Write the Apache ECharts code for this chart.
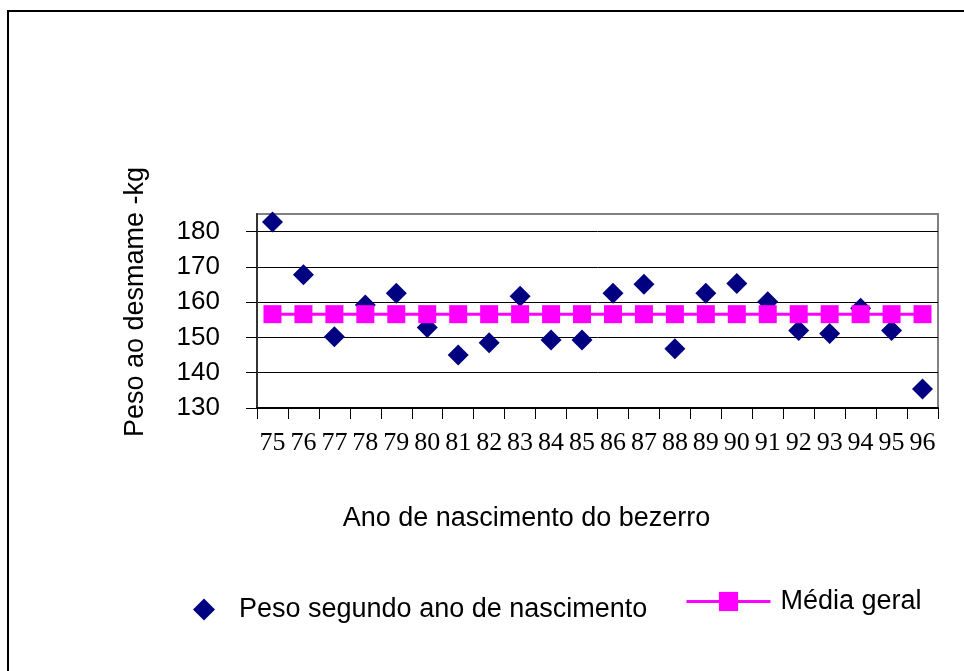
<!DOCTYPE html>
<html>
<head>
<meta charset="utf-8">
<script src="https://cdn.jsdelivr.net/npm/echarts@6/dist/echarts.min.js"></script>
<style>
html,body{margin:0;padding:0;background:#fff;}
#chart{width:964px;height:671px;}
</style>
</head>
<body>
<div id="chart"></div>
<script>
var years = ['75','76','77','78','79','80','81','82','83','84','85','86','87','88','89','90','91','92','93','94','95','96'];
var pesoValues = [182.7,167.8,150.2,159.2,162.5,152.8,145.0,148.5,161.7,149.3,149.3,162.5,165.1,146.8,162.5,165.3,160.1,152.0,151.1,158.3,152.0,135.4];
var mediaValues = [156.6,156.6,156.6,156.6,156.6,156.6,156.6,156.6,156.6,156.6,156.6,156.6,156.6,156.6,156.6,156.6,156.6,156.6,156.6,156.6,156.6,156.6];
var yMin = 130, yMax = 185, yInterval = 10;

var chart = echarts.init(document.getElementById('chart'), null, {renderer:'canvas'});
var sans = 'Liberation Sans, Arial, sans-serif';
var serif = 'Liberation Serif, Times New Roman, serif';
chart.setOption({
  animation:false,
  backgroundColor:'#ffffff',
  graphic:[{
    type:'polyline',
    shape:{points:[[8,680],[8,11],[970,11]]},
    style:{stroke:'#000',lineWidth:2,fill:null},
    silent:true
  }],
  grid:{left:257,right:26,top:214,bottom:263,show:true,borderColor:'#808080',borderWidth:2,backgroundColor:'transparent'},
  xAxis:{
    type:'category',
    data:years,
    boundaryGap:true,
    name:'Ano de nascimento do bezerro',
    nameLocation:'middle',
    nameGap:97,
    nameTextStyle:{fontFamily:sans,fontSize:27,color:'#000',padding:[0,142,0,0]},
    axisLine:{lineStyle:{color:'#000',width:2}},
    axisTick:{show:true,length:11,lineStyle:{color:'#000',width:1}},
    axisLabel:{interval:0,fontFamily:serif,fontSize:26,color:'#000',margin:22},
    splitLine:{show:false}
  },
  yAxis:{
    type:'value',
    min:yMin,max:yMax,interval:yInterval,
    name:'Peso ao desmame -kg',
    nameLocation:'middle',
    nameGap:108,
    nameTextStyle:{fontFamily:sans,fontSize:27,color:'#000',padding:[0,0,0,18]},
    axisLine:{show:true,lineStyle:{color:'#333',width:2}},
    axisTick:{show:true,length:11,lineStyle:{color:'#000',width:1}},
    axisLabel:{fontFamily:sans,fontSize:26,color:'#000',margin:37,showMaxLabel:false},
    splitLine:{show:true,lineStyle:{color:['#000','#000','#000','#000','#000','#000','#808080'],width:1}}
  },
  legend:[{
    data:['Peso segundo ano de nascimento'],
    left:188, top:591,
    itemWidth:22,itemHeight:22,
    textStyle:{fontFamily:sans,fontSize:27,color:'#000',padding:[0,0,0,19]}
  },{
    data:['Média geral'],
    left:680, top:583,
    itemWidth:84,itemHeight:24,
    lineStyle:{width:3},
    textStyle:{fontFamily:sans,fontSize:27,color:'#000',padding:[0,0,18,5]}
  }],
  series:[{
    name:'Peso segundo ano de nascimento',
    type:'scatter',
    data:pesoValues,
    symbol:'diamond',
    symbolSize:[21,21],
    itemStyle:{color:'#000080',opacity:1},
    z:2
  },{
    name:'Média geral',
    type:'line',
    data:mediaValues,
    symbol:'rect',
    symbolSize:[18,18],
    showSymbol:true,
    lineStyle:{color:'#FF00FF',width:3},
    itemStyle:{color:'#FF00FF'},
    z:3
  }]
});
</script>
</body>
</html>
